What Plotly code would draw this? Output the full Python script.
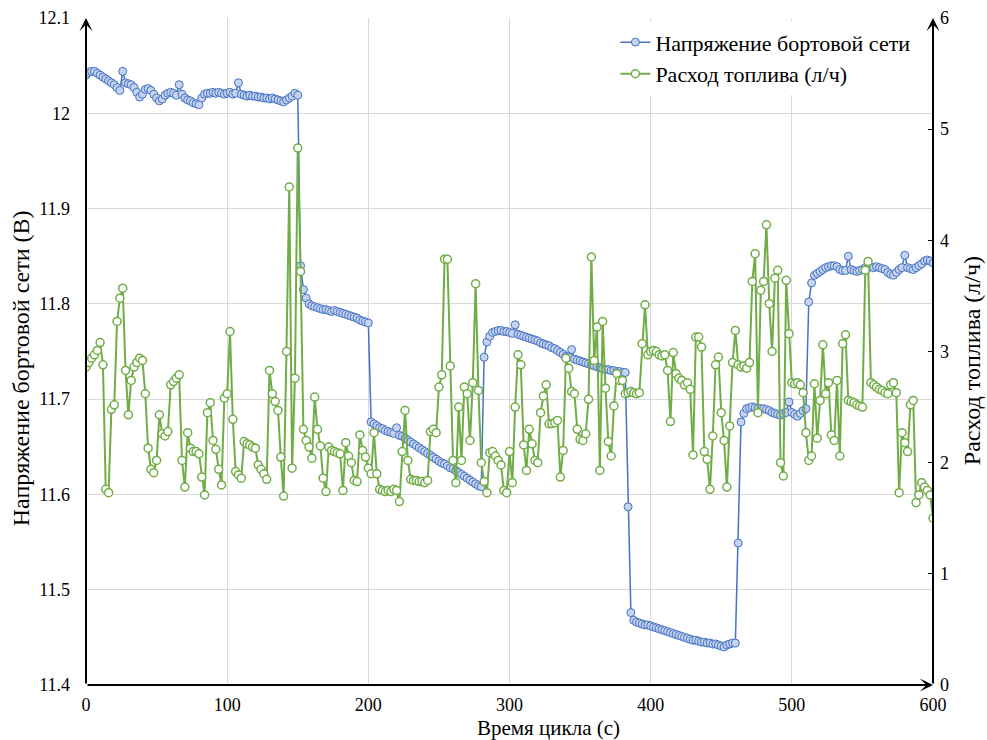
import plotly.graph_objects as go

time_s = list(range(0, 601, 2))

voltage = [
    12.040, 12.043, 12.044, 12.044, 12.042, 12.040, 12.038, 12.036, 12.034, 12.032,
    12.030, 12.027, 12.024, 12.044, 12.032, 12.031, 12.030, 12.027, 12.022, 12.017,
    12.020, 12.025, 12.026, 12.024, 12.020, 12.016, 12.013, 12.015, 12.019, 12.021,
    12.022, 12.021, 12.019, 12.030, 12.020, 12.016, 12.014, 12.013, 12.011, 12.010,
    12.009, 12.016, 12.020, 12.021, 12.021, 12.022, 12.021, 12.022, 12.021, 12.020,
    12.021, 12.022, 12.020, 12.021, 12.032, 12.020, 12.019, 12.018, 12.019, 12.018,
    12.018, 12.017, 12.017, 12.016, 12.016, 12.015, 12.016, 12.015, 12.014, 12.013,
    12.012, 12.014, 12.016, 12.018, 12.021, 12.019, 11.840, 11.815, 11.806, 11.800,
    11.798, 11.797, 11.796, 11.795, 11.794, 11.794, 11.793, 11.792, 11.793, 11.792,
    11.791, 11.790, 11.789, 11.788, 11.787, 11.786, 11.785, 11.783, 11.782, 11.781,
    11.780, 11.676, 11.674, 11.672, 11.670, 11.669, 11.667, 11.666, 11.665, 11.664,
    11.670, 11.662, 11.661, 11.659, 11.657, 11.655, 11.653, 11.651, 11.649, 11.647,
    11.645, 11.643, 11.641, 11.639, 11.637, 11.635, 11.633, 11.632, 11.630, 11.628,
    11.627, 11.625, 11.623, 11.621, 11.619, 11.617, 11.615, 11.613, 11.611, 11.609,
    11.608, 11.744, 11.760, 11.766, 11.770, 11.771, 11.772, 11.772, 11.771, 11.771,
    11.770, 11.769, 11.778, 11.768, 11.767, 11.766, 11.765, 11.764, 11.763, 11.762,
    11.761, 11.759, 11.758, 11.757, 11.756, 11.754, 11.753, 11.751, 11.749, 11.747,
    11.745, 11.744, 11.752, 11.742, 11.741, 11.740, 11.739, 11.738, 11.737, 11.736,
    11.735, 11.734, 11.733, 11.732, 11.731, 11.731, 11.730, 11.730, 11.729, 11.729,
    11.728, 11.728, 11.587, 11.476, 11.468, 11.466, 11.465, 11.464, 11.463, 11.463,
    11.462, 11.461, 11.460, 11.459, 11.458, 11.457, 11.456, 11.455, 11.454, 11.453,
    11.452, 11.451, 11.450, 11.449, 11.448, 11.447, 11.447, 11.446, 11.445, 11.445,
    11.444, 11.444, 11.443, 11.443, 11.442, 11.441, 11.440, 11.442, 11.443, 11.444,
    11.444, 11.549, 11.676, 11.685, 11.690, 11.691, 11.692, 11.691, 11.690, 11.690,
    11.690, 11.689, 11.688, 11.686, 11.685, 11.684, 11.683, 11.685, 11.686, 11.697,
    11.686, 11.684, 11.682, 11.685, 11.688, 11.690, 11.802, 11.822, 11.830, 11.832,
    11.834, 11.836, 11.838, 11.839, 11.840, 11.840, 11.839, 11.836, 11.835, 11.835,
    11.850, 11.836, 11.835, 11.834, 11.835, 11.836, 11.838, 11.838, 11.839, 11.838,
    11.839, 11.838, 11.837, 11.836, 11.833, 11.831, 11.830, 11.833, 11.836, 11.838,
    11.851, 11.838, 11.837, 11.836, 11.838, 11.840, 11.842, 11.845, 11.846, 11.845,
    11.843,
]

fuel = [
    2.86, 2.90, 2.94, 2.97, 3.01, 3.08, 2.88, 1.76, 1.73, 2.48,
    2.52, 3.27, 3.48, 3.57, 2.83, 2.43, 2.74, 2.86, 2.90, 2.94,
    2.92, 2.62, 2.13, 1.94, 1.91, 2.02, 2.43, 2.26, 2.24, 2.28,
    2.70, 2.73, 2.76, 2.79, 2.02, 1.78, 2.27, 2.13, 2.10, 2.10,
    2.08, 1.87, 1.71, 2.45, 2.54, 2.20, 2.12, 1.94, 1.80, 2.58,
    2.62, 3.18, 2.39, 1.92, 1.89, 1.86, 2.19, 2.17, 2.16, 2.14,
    2.13, 1.98, 1.94, 1.90, 1.85, 2.83, 2.62, 2.55, 2.47, 2.05,
    1.70, 3.00, 4.48, 1.95, 2.76, 4.83, 3.72, 2.30, 2.20, 2.14,
    2.04, 2.59, 2.30, 2.15, 1.86, 1.74, 2.14, 2.11, 2.10, 2.09,
    2.08, 1.75, 2.18, 2.06, 2.00, 1.84, 1.83, 2.25, 2.11, 2.05,
    1.95, 1.90, 2.27, 1.90, 1.76, 1.75, 1.74, 1.75, 1.74, 1.76,
    1.75, 1.65, 2.10, 2.47, 2.02, 1.85, 1.84, 1.84, 1.83, 1.83,
    1.82, 1.84, 2.28, 2.30, 2.27, 2.68, 2.79, 3.83, 3.83, 2.87,
    2.02, 1.82, 2.50, 2.02, 2.68, 2.62, 2.20, 2.72, 3.61, 2.65,
    2.00, 1.83, 1.73, 2.09, 2.10, 2.06, 2.02, 1.98, 1.75, 1.73,
    2.10, 1.82, 2.50, 2.97, 2.88, 2.16, 1.93, 2.30, 2.17, 2.02,
    2.00, 2.45, 2.60, 2.70, 2.35, 2.35, 2.36, 2.38, 1.87, 2.11,
    2.94, 2.85, 2.64, 2.62, 2.30, 2.21, 2.20, 2.26, 2.57, 3.85,
    2.92, 3.22, 1.93, 3.27, 2.67, 2.19, 2.06, 2.51, 2.80, 2.74,
    2.74, 2.62, 2.63, 2.64, 2.63, 2.62, 2.63, 3.07, 3.42, 2.97,
    3.00, 3.01, 3.00, 2.97, 2.96, 2.97, 2.83, 2.37, 2.99, 2.80,
    2.76, 2.74, 2.70, 2.72, 2.66, 2.07, 3.13, 3.13, 3.04, 2.10,
    2.03, 1.76, 2.24, 2.88, 2.95, 2.45, 2.20, 1.78, 2.33, 2.90,
    3.19, 2.88, 2.86, 2.87, 2.85, 2.90, 3.63, 3.88, 2.45, 3.55,
    3.63, 4.14, 3.43, 3.00, 3.66, 3.73, 2.00, 1.88, 3.64, 3.16,
    2.72, 2.71, 2.72, 2.70, 2.63, 2.27, 2.02, 2.06, 2.71, 2.22,
    2.56, 3.06, 2.62, 2.72, 2.25, 2.20, 2.74, 2.06, 3.07, 3.15,
    2.56, 2.55, 2.54, 2.52, 2.51, 2.50, 3.73, 3.81, 2.72, 2.70,
    2.68, 2.66, 2.65, 2.63, 2.62, 2.70, 2.72, 2.63, 1.73, 2.27,
    2.18, 2.10, 2.52, 2.56, 1.64, 1.71, 1.82, 1.78, 1.75, 1.71,
    1.50,
]

name_v = "Напряжение бортовой сети"
name_f = "Расход топлива (л/ч)"
title_x = "Время цикла (с)"
title_y1 = "Напряжение бортовой сети (В)"
title_y2 = "Расход топлива (л/ч)"

FONT = "Liberation Serif"
BLUE = "#4472C4"
GREEN = "#70AD47"
TICKFONT = dict(family=FONT, size=18, color="black")

fig = go.Figure()
fig.add_trace(go.Scatter(
    x=time_s, y=voltage, name=name_v, mode="lines+markers",
    line=dict(color=BLUE, width=1.5),
    marker=dict(symbol="circle", size=8, color="#C5D3EE", line=dict(color=BLUE, width=1)),
    yaxis="y",
))
fig.add_trace(go.Scatter(
    x=time_s, y=fuel, name=name_f, mode="lines+markers",
    line=dict(color=GREEN, width=2),
    marker=dict(symbol="circle", size=8, color="white", line=dict(color=GREEN, width=1.5)),
    yaxis="y2",
))

fig.update_layout(
    width=987, height=740,
    margin=dict(l=86, r=54, t=18, b=55, autoexpand=False),
    paper_bgcolor="white", plot_bgcolor="white",
    font=dict(family=FONT, size=16, color="black"),
    showlegend=True,
    legend=dict(
        x=0.625, y=0.995, xanchor="left", yanchor="top",
        bgcolor="white", font=dict(family=FONT, size=22, color="black"),
        itemwidth=30, tracegroupgap=0,
    ),
    xaxis=dict(
        range=[0, 600], dtick=100, tick0=0,
        showgrid=True, gridcolor="#D9D9D9", gridwidth=1,
        zeroline=False, showline=False, ticks="",
        ticklabelstandoff=7, automargin=False,
        tickfont=TICKFONT,
    ),
    yaxis=dict(
        range=[11.4, 12.1], dtick=0.1, tick0=11.4,
        showgrid=True, gridcolor="#D9D9D9", gridwidth=1,
        zeroline=False, showline=False, ticks="",
        ticklabelstandoff=15, automargin=False,
        tickfont=TICKFONT,
    ),
    yaxis2=dict(
        range=[0, 6], dtick=1, tick0=0, overlaying="y", side="right",
        showgrid=False, zeroline=False, showline=False,
        ticks="inside", ticklen=5, tickcolor="black", tickwidth=1,
        ticklabelstandoff=6, automargin=False,
        tickfont=TICKFONT,
    ),
)

fig.add_annotation(text=title_x, xref="paper", yref="paper", x=0.546, y=-0.064,
                   xanchor="center", yanchor="middle", showarrow=False,
                   font=dict(family=FONT, size=21, color="black"))
fig.add_annotation(text=title_y1, xref="paper", yref="paper", x=-0.0767, y=0.475,
                   xanchor="center", yanchor="middle", showarrow=False, textangle=-90,
                   font=dict(family=FONT, size=24, color="black"))
fig.add_annotation(text=title_y2, xref="paper", yref="paper", x=1.046, y=0.487,
                   xanchor="center", yanchor="middle", showarrow=False, textangle=-90,
                   font=dict(family=FONT, size=24, color="black"))

arrow_common = dict(text="", showarrow=True, arrowhead=3, arrowsize=1.1,
                    arrowwidth=2, arrowcolor="black")
fig.add_annotation(x=0, y=12.1, xref="x", yref="y", ax=0, ay=11.4,
                   axref="x", ayref="y", **arrow_common)
fig.add_annotation(x=600, y=6, xref="x", yref="y2", ax=600, ay=0,
                   axref="x", ayref="y2", **arrow_common)
fig.add_annotation(x=600, y=11.4, xref="x", yref="y", ax=0, ay=11.4,
                   axref="x", ayref="y", **arrow_common)

fig.write_html("out.html")
